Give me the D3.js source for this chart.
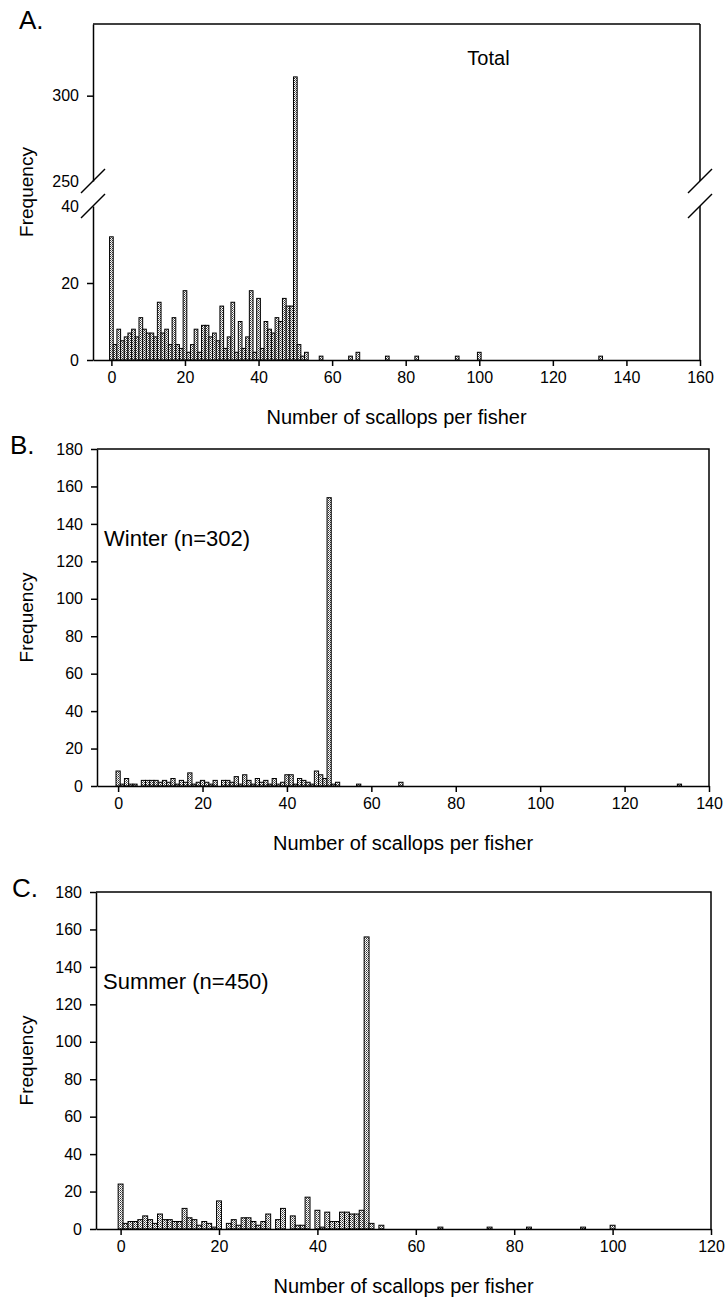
<!DOCTYPE html>
<html>
<head>
<meta charset="utf-8">
<script src="https://cdn.jsdelivr.net/npm/d3@7/dist/d3.min.js"></script>
<style>
body { margin: 0; background: #fff; }
svg { display: block; font-family: "Liberation Sans", Arial, sans-serif; }
</style>
</head>
<body>
<script>
// counts per number of scallops, bins 0..53, then sparse tail bins [scallops, count]
var totalCounts = [32,4,8,5,6,7,8,6,11,8,7,7,6,15,7,8,4,11,4,3,18,2,4,8,2,9,9,6,7,5,14,3,6,15,2,10,3,6,18,2,16,3,10,8,7,11,10,16,14,14,311,4,1,2];
var totalTail = [[57,1],[65,1],[67,2],[75,1],[83,1],[94,1],[100,2],[133,1]];

var winterCounts = [8,1,4,1,1,0,3,3,3,3,2,3,2,4,1,3,2,7,1,2,3,2,1,3,0,3,3,2,5,1,6,3,1,4,2,3,1,4,1,2,6,6,1,4,3,2,1,8,6,4,154,1,2,0];
var winterTail = [[57,1],[67,2],[133,1]];

var summerCounts = [24,3,4,4,5,7,5,3,8,5,5,4,4,11,6,5,2,4,3,1,15,0,3,5,2,6,6,4,2,4,8,0,5,11,0,7,2,2,17,0,10,1,9,4,4,9,9,8,8,10,156,3,0,2];
var summerTail = [[65,1],[75,1],[83,1],[94,1],[100,2]];

var totalXTicks = [0,20,40,60,80,100,120,140,160];
var winterXTicks = [0,20,40,60,80,100,120,140];
var summerXTicks = [0,20,40,60,80,100,120];
var freqTicks = [0,20,40,60,80,100,120,140,160,180];

var width = 727, height = 1302;

function toBins(counts, tail) {
  var bins = counts.map(function(n, i) { return {x: i, n: n}; });
  tail.forEach(function(t) { bins.push({x: t[0], n: t[1]}); });
  return bins.filter(function(d) { return d.n > 0; });
}

var svg = d3.select("body").append("svg")
  .attr("width", width)
  .attr("height", height);

// stippled bar fill
var pat = svg.append("defs").append("pattern")
  .attr("id", "stip").attr("width", 2).attr("height", 2)
  .attr("patternUnits", "userSpaceOnUse");
pat.append("rect").attr("width", 2).attr("height", 2).attr("fill", "#fff");
pat.append("rect").attr("width", 1).attr("height", 1).attr("fill", "#333");
pat.append("rect").attr("x", 1).attr("y", 1).attr("width", 1).attr("height", 1).attr("fill", "#777");

function styleAxis(g) {
  g.selectAll(".domain").attr("stroke", "#000").attr("stroke-width", 1.5);
  g.selectAll(".tick line").attr("stroke", "#000").attr("stroke-width", 1.5);
  g.selectAll(".tick text").attr("fill", "#000").style("font-size", "16px")
    .style("font-family", "'Liberation Sans', Arial, sans-serif");
}

function drawBars(g, bins, x, yTop, y0) {
  g.append("g").selectAll("rect")
    .data(bins)
    .enter().append("rect")
    .attr("x", function(d) { return x(d.x - 0.5); })
    .attr("width", function(d) { return x(d.x + 0.5) - x(d.x - 0.5); })
    .attr("y", function(d) { return yTop(d.n); })
    .attr("height", function(d) { return y0 - yTop(d.n); })
    .attr("fill", "url(#stip)")
    .attr("stroke", "#000")
    .attr("stroke-width", 1);
}

function labels(p, letter, letterX) {
  svg.append("text").attr("x", letterX).attr("y", p.top + 5)
    .style("font-size", "26px").text(letter);
  svg.append("text")
    .attr("x", (p.left + p.right) / 2).attr("y", p.bottom + 64)
    .attr("text-anchor", "middle").style("font-size", "20px")
    .text("Number of scallops per fisher");
  svg.append("text")
    .attr("transform", "translate(33," + ((p.top + p.bottom) / 2) + ")rotate(-90)")
    .attr("text-anchor", "middle").style("font-size", "19px")
    .text("Frequency");
}

function xAxis(p, x, ticks) {
  svg.append("g")
    .attr("transform", "translate(0," + p.bottom + ")")
    .call(d3.axisBottom(x).tickValues(ticks).tickSize(6).tickSizeOuter(0).tickPadding(6))
    .call(styleAxis);
}

// ---- A. Total (broken y axis)
var pA = {left: 93, right: 700, top: 24, bottom: 360};
var xA = d3.scaleLinear().domain([-5, 160]).range([pA.left, pA.right]);
var yLow = d3.scaleLinear().domain([0, 40]).range([pA.bottom, 206]);
var yHigh = d3.scaleLinear().domain([250, 342]).range([181, pA.top]);
function yA(n) { return n <= 40 ? yLow(n) : yHigh(n); }

var gA = svg.append("g");
drawBars(gA, toBins(totalCounts, totalTail), xA, yA, pA.bottom);

var axLow = svg.append("g").attr("transform", "translate(" + pA.left + ",0)")
  .call(d3.axisLeft(yLow).tickValues([0, 20, 40]).tickSize(6).tickSizeOuter(0).tickPadding(8))
  .call(styleAxis);
axLow.selectAll(".tick").filter(function(d) { return d === 40; }).select("line").remove();
var axHigh = svg.append("g").attr("transform", "translate(" + pA.left + ",0)")
  .call(d3.axisLeft(yHigh).tickValues([250, 300]).tickSize(6).tickSizeOuter(0).tickPadding(8))
  .call(styleAxis);
axHigh.selectAll(".tick").filter(function(d) { return d === 250; }).select("line").remove();

xAxis(pA, xA, totalXTicks);

svg.append("line").attr("x1", pA.left).attr("x2", pA.right).attr("y1", pA.top).attr("y2", pA.top)
  .attr("stroke", "#000").attr("stroke-width", 1.5);
svg.append("line").attr("x1", pA.right).attr("x2", pA.right).attr("y1", pA.top).attr("y2", yHigh(250))
  .attr("stroke", "#000").attr("stroke-width", 1.5);
svg.append("line").attr("x1", pA.right).attr("x2", pA.right).attr("y1", yLow(40)).attr("y2", pA.bottom)
  .attr("stroke", "#000").attr("stroke-width", 1.5);

// break slashes
[pA.left, pA.right].forEach(function(bx) {
  [yHigh(250), yLow(40)].forEach(function(by) {
    svg.append("line")
      .attr("x1", bx - 12).attr("y1", by + 12).attr("x2", bx + 12).attr("y2", by - 12)
      .attr("stroke", "#000").attr("stroke-width", 1.5);
  });
});

svg.append("text").attr("x", xA(102.5)).attr("y", 65).attr("text-anchor", "middle")
  .style("font-size", "20px").text("Total");
labels(pA, "A.", 19);

// ---- B. and C.
function simplePanel(p, xDomain, ticks, counts, tail, letter, letterX, caption) {
  var x = d3.scaleLinear().domain(xDomain).range([p.left, p.right]);
  var y = d3.scaleLinear().domain([0, 180]).range([p.bottom, p.top]);
  var g = svg.append("g");
  drawBars(g, toBins(counts, tail), x, y, p.bottom);

  svg.append("g").attr("transform", "translate(" + p.left + ",0)")
    .call(d3.axisLeft(y).tickValues(freqTicks).tickSize(6).tickSizeOuter(0).tickPadding(8))
    .call(styleAxis);
  xAxis(p, x, ticks);

  svg.append("path")
    .attr("d", "M" + p.left + "," + p.top + "H" + p.right + "V" + p.bottom)
    .attr("fill", "none").attr("stroke", "#000").attr("stroke-width", 1.5);

  svg.append("text").attr("x", p.left + 7).attr("y", y(128))
    .style("font-size", "22px").text(caption);
  labels(p, letter, letterX);
}

simplePanel({left: 97, right: 709, top: 449, bottom: 786}, [-5, 140], winterXTicks,
  winterCounts, winterTail, "B.", 10, "Winter (n=302)");
simplePanel({left: 96, right: 711, top: 892, bottom: 1229}, [-5, 120], summerXTicks,
  summerCounts, summerTail, "C.", 12, "Summer (n=450)");
</script>
</body>
</html>
